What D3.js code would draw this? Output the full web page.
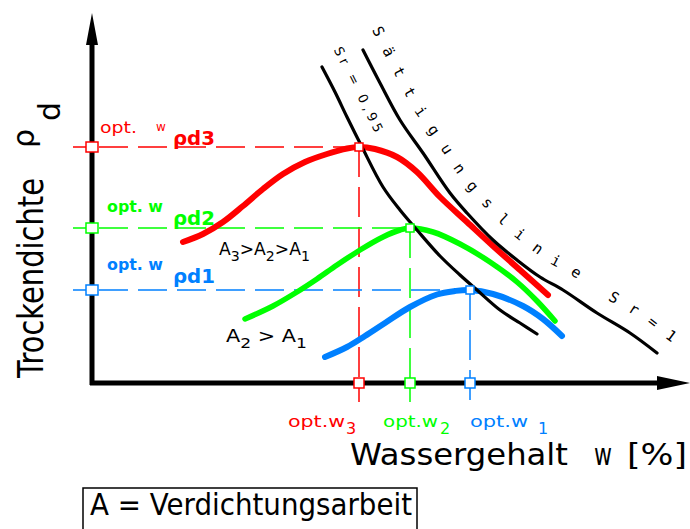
<!DOCTYPE html>
<html>
<head>
<meta charset="utf-8">
<script src="https://cdn.jsdelivr.net/npm/d3@7"></script>
<style>
  html, body { margin: 0; padding: 0; background: #fff; }
  svg { display: block; }
  text { font-family: "DejaVu Sans", sans-serif; }
</style>
</head>
<body>
<svg id="chart" width="690" height="529"></svg>
<script>
// Proctor curves for three compaction efforts (A3 > A2 > A1)
// water content w [%] against dry density ρd [g/cm³]
const wA3   = [4.55, 5.55, 6.55, 7.55, 8.55, 9.55, 10.65, 11.75, 12.75, 13.35, 14.15, 15.25, 16.25, 17.4, 18.75, 20.05, 21.4, 22.8];
const rhoA3 = [1.3525, 1.3725, 1.4025, 1.4425, 1.485, 1.5225, 1.5525, 1.5725, 1.5863, 1.59, 1.585, 1.565, 1.5275, 1.465, 1.4025, 1.3425, 1.2825, 1.22];

const wA2   = [7.65, 9.05, 10.25, 11.25, 12.25, 13.4, 14.55, 15.4, 15.9, 17.05, 18.4, 19.9, 21.25, 22.25, 23.15];
const rhoA2 = [1.16, 1.1925, 1.2275, 1.26, 1.295, 1.3325, 1.365, 1.3825, 1.3875, 1.3775, 1.3475, 1.3025, 1.2525, 1.205, 1.155];

const wA1   = [11.65, 12.75, 13.65, 14.65, 15.9, 17.25, 18.15, 18.9, 20.05, 21.55, 22.55, 23.5];
const rhoA1 = [1.065, 1.09, 1.1175, 1.15, 1.19, 1.2213, 1.23, 1.2325, 1.2225, 1.1925, 1.16, 1.1175];

// optimum points (A3, A2, A1)
const optW   = [13.35, 15.9, 18.9];
const optRho = [1.59, 1.3875, 1.2325];
const optIndex = ["3", "2", "1"];
const curveColors = ["#ff0000", "#00ff00", "#0080ff"];

// saturation lines Sr = 0.95 and Sr = 1
const wSr95   = [11.5, 12.15, 12.75, 13.5, 14.55, 15.4, 16.25, 17.4, 18.4, 19.25, 20.4, 21.4, 22.25];
const rhoSr95 = [1.79, 1.7275, 1.665, 1.59, 1.49, 1.4325, 1.3825, 1.3175, 1.27, 1.2325, 1.1825, 1.15, 1.1225];

const wSat   = [13.55, 14.4, 15.4, 16.55, 17.9, 18.75, 20.05, 21.25, 22.4, 23.55, 25.25, 26.9, 28.25];
const rhoSat = [1.8325, 1.75, 1.6575, 1.575, 1.475, 1.425, 1.3575, 1.3075, 1.265, 1.2325, 1.175, 1.125, 1.075];

const W = 690, H = 529;
const svg = d3.select("#chart");

const x = d3.scaleLinear().domain([0, 30]).range([92, 692]);
const y = d3.scaleLinear().domain([1.0, 1.85]).range([383, 43]);
const x0 = x(0), y0 = y(1.0);

const zip = (ws, rs) => ws.map((w, i) => [w, rs[i]]);
const line = d3.line().x(d => x(d[0])).y(d => y(d[1])).curve(d3.curveCatmullRom.alpha(0.5));

// dashed guides to the optimum points
const guides = svg.append("g").attr("fill", "none").attr("stroke-width", 1.5);
optW.forEach((w, i) => {
  const c = curveColors[i];
  guides.append("line")
    .attr("x1", x0 - 19).attr("x2", x(w))
    .attr("y1", y(optRho[i])).attr("y2", y(optRho[i]))
    .attr("stroke", c).attr("stroke-dasharray", "29,10").attr("stroke-dashoffset", 13);
  guides.append("line")
    .attr("x1", x(w)).attr("x2", x(w))
    .attr("y1", y(optRho[i])).attr("y2", y0 + 19)
    .attr("stroke", c).attr("stroke-dasharray", "30,10");
});

// compaction curves
const curves = [zip(wA3, rhoA3), zip(wA2, rhoA2), zip(wA1, rhoA1)];
const curveWidths = [6, 5.5, 6];
svg.append("g").selectAll("path").data(curves).join("path")
  .attr("d", line)
  .attr("fill", "none")
  .attr("stroke", (d, i) => curveColors[i])
  .attr("stroke-width", (d, i) => curveWidths[i])
  .attr("stroke-linecap", "round");

// saturation lines
const sr95Pts = zip(wSr95, rhoSr95);
const satPts = zip(wSat, rhoSat);
svg.append("g").selectAll("path").data([sr95Pts, satPts]).join("path")
  .attr("d", line)
  .attr("fill", "none")
  .attr("stroke", "#000")
  .attr("stroke-width", 3.2)
  .attr("stroke-linecap", "round");

// axes with arrow heads
const axes = svg.append("g");
axes.append("line").attr("x1", x0).attr("x2", x0).attr("y1", y0 + 2).attr("y2", 44)
  .attr("stroke", "#000").attr("stroke-width", 5);
axes.append("path").attr("d", `M${x0},13 L${x0 + 6},45 L${x0 - 6},45 Z`).attr("fill", "#000");
axes.append("line").attr("x1", x0 - 2).attr("x2", 658).attr("y1", y0).attr("y2", y0)
  .attr("stroke", "#000").attr("stroke-width", 5);
axes.append("path").attr("d", `M690,${y0} L657,${y0 - 7} L657,${y0 + 7} Z`).attr("fill", "#000");

// markers on the axes and at the optima
const marks = svg.append("g").attr("fill", "#fff").attr("stroke-width", 1.5);
optW.forEach((w, i) => {
  const c = curveColors[i];
  marks.append("rect").attr("x", x0 - 6).attr("y", y(optRho[i]) - 5).attr("width", 12).attr("height", 10).attr("stroke", c);
  marks.append("rect").attr("x", x(w) - 5).attr("y", y0 - 5).attr("width", 10).attr("height", 10).attr("stroke", c);
  marks.append("rect").attr("x", x(w) - 4).attr("y", y(optRho[i]) - 4).attr("width", 8).attr("height", 8).attr("stroke", c);
});

// labels of the optimum dry densities
const rhoLabelBase = [145, 225, 283];
const optLabelBase = [133, 212, 270];
optW.forEach((w, i) => {
  const c = curveColors[i];
  if (i === 0) {
    svg.append("text").attr("x", 100).attr("y", optLabelBase[i]).attr("fill", c)
      .attr("font-size", 15).attr("textLength", 37).attr("lengthAdjust", "spacingAndGlyphs").text("opt.");
    svg.append("text").attr("x", 156).attr("y", optLabelBase[i] - 2).attr("fill", c)
      .attr("font-size", 12).text("w");
  } else {
    svg.append("text").attr("x", 107).attr("y", optLabelBase[i]).attr("fill", c)
      .attr("font-size", 15).attr("font-weight", "bold")
      .attr("textLength", 56).attr("lengthAdjust", "spacingAndGlyphs").text("opt. w");
  }
  const t = svg.append("text").attr("x", 173).attr("y", rhoLabelBase[i]).attr("fill", c)
    .attr("font-size", 19).attr("font-weight", "bold")
    .attr("textLength", 42).attr("lengthAdjust", "spacingAndGlyphs");
  t.append("tspan").text("ρ");
  t.append("tspan").text("d" + optIndex[i]);
});

// optimum water content labels below the axis
const optWLabelX = [288, 383, 470];
const optWLabelLen = [57, 55, 58];
const optSubDx = [1, 2, 10];
optW.forEach((w, i) => {
  const c = curveColors[i];
  svg.append("text").attr("x", optWLabelX[i]).attr("y", 427).attr("fill", c)
    .attr("font-size", 16).attr("textLength", optWLabelLen[i]).attr("lengthAdjust", "spacingAndGlyphs")
    .text("opt.w");
  svg.append("text").attr("x", optWLabelX[i] + optWLabelLen[i] + optSubDx[i]).attr("y", 434).attr("fill", c)
    .attr("font-size", 16).text(optIndex[i]);
});

// effort labels
function effortLabel(xp, yp, parts, len) {
  const t = svg.append("text").attr("x", xp).attr("y", yp).attr("font-size", 17)
    .attr("textLength", len).attr("lengthAdjust", "spacingAndGlyphs");
  parts.forEach(p => {
    t.append("tspan").attr("dy", p[1]).attr("font-size", p[1] > 0 ? 14 : 17).text(p[0]);
  });
}
effortLabel(219, 255, [["A", 0], ["3", 6], [">", -6], ["A", 0], ["2", 6], [">", -6], ["A", 0], ["1", 6]], 91);
effortLabel(226, 342, [["A", 0], ["2", 6], ["  >  ", -6], ["A", 0], ["1", 6]], 81);

// labels running along the saturation lines
function offsetPoints(pts, d, extStart, extEnd) {
  const n = pts.length;
  const out = pts.map((p, i) => {
    const a = pts[Math.max(0, i - 1)], b = pts[Math.min(n - 1, i + 1)];
    let tx = b[0] - a[0], ty = b[1] - a[1];
    const L = Math.hypot(tx, ty); tx /= L; ty /= L;
    return [p[0] + d * ty, p[1] - d * tx];
  });
  const s0 = out[0], s1 = out[1];
  let L = Math.hypot(s1[0] - s0[0], s1[1] - s0[1]);
  out.unshift([s0[0] - extStart * (s1[0] - s0[0]) / L, s0[1] - extStart * (s1[1] - s0[1]) / L]);
  const e0 = out[out.length - 2], e1 = out[out.length - 1];
  L = Math.hypot(e1[0] - e0[0], e1[1] - e0[1]);
  out.push([e1[0] + extEnd * (e1[0] - e0[0]) / L, e1[1] + extEnd * (e1[1] - e0[1]) / L]);
  return out;
}
const pix = pts => pts.map(p => [x(p[0]), y(p[1])]);
const pathGen = d3.line().curve(d3.curveCatmullRom);
const defs = svg.append("defs");
defs.append("path").attr("id", "satLabelPath").attr("d", pathGen(offsetPoints(pix(satPts), 17, 40, 80)));
defs.append("path").attr("id", "sr95LabelPath").attr("d", pathGen(offsetPoints(pix(sr95Pts), 18, 35, 20)));

svg.append("text")
  .style("font-family", "'DejaVu Sans Mono', monospace").style("font-size", "15px")
  .style("letter-spacing", "13.8px")
  .append("textPath").attr("href", "#satLabelPath").attr("startOffset", 26)
  .text("Sättigungslinie Sr=1");

svg.append("text").style("font-size", "13px").style("letter-spacing", "4px")
  .append("textPath").attr("href", "#sr95LabelPath").attr("startOffset", 25)
  .text("Sr = 0,95");

// axis titles
svg.append("text").attr("transform", "translate(43,378) rotate(-90)")
  .attr("font-size", 36).attr("textLength", 200).attr("lengthAdjust", "spacingAndGlyphs")
  .text("Trockendichte");
svg.append("text").attr("transform", "translate(34,148) rotate(-90)")
  .attr("font-size", 30).text("ρ");
svg.append("text").attr("transform", "translate(60,121) rotate(-90)")
  .attr("font-size", 30).text("d");

svg.append("text").attr("x", 350).attr("y", 465).attr("font-size", 30)
  .attr("textLength", 218).attr("lengthAdjust", "spacingAndGlyphs").text("Wassergehalt");
svg.append("text").attr("x", 594).attr("y", 465).attr("font-size", 30)
  .attr("textLength", 18).attr("lengthAdjust", "spacingAndGlyphs").text("w");
svg.append("text").attr("x", 627).attr("y", 465).attr("font-size", 30)
  .attr("textLength", 60).attr("lengthAdjust", "spacingAndGlyphs").text("[%]");

// legend
svg.append("rect").attr("x", 83).attr("y", 488).attr("width", 334).attr("height", 70)
  .attr("fill", "none").attr("stroke", "#000").attr("stroke-width", 1.5);
svg.append("text").attr("x", 90).attr("y", 515).attr("font-size", 30)
  .attr("textLength", 322).attr("lengthAdjust", "spacingAndGlyphs").text("A = Verdichtungsarbeit");
</script>
</body>
</html>
